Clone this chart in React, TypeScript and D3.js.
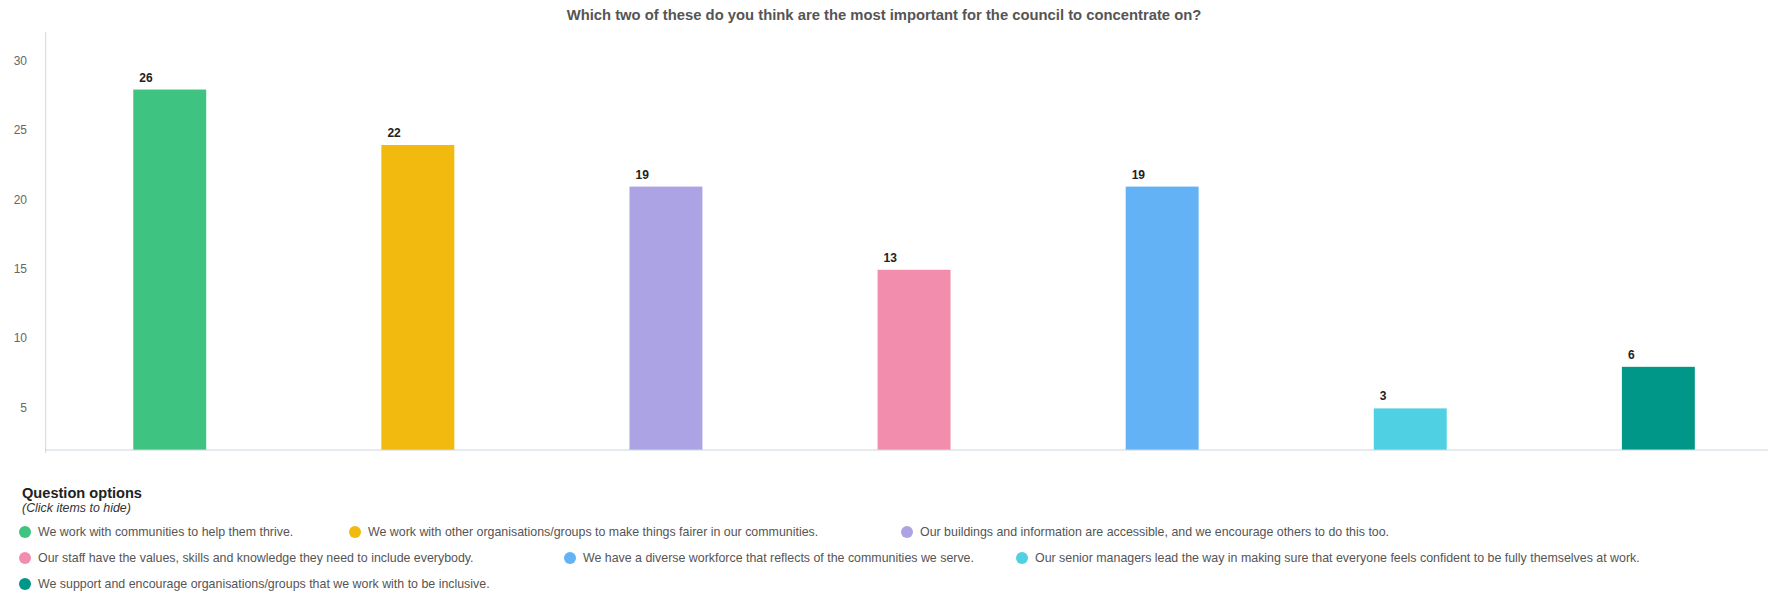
import React from "react";
import * as d3 from "d3";

const TITLE = "Which two of these do you think are the most important for the council to concentrate on?";
const categories = [
  "We work with communities to help them thrive.",
  "We work with other organisations/groups to make things fairer in our communities.",
  "Our buildings and information are accessible, and we encourage others to do this too.",
  "Our staff have the values, skills and knowledge they need to include everybody.",
  "We have a diverse workforce that reflects of the communities we serve.",
  "Our senior managers lead the way in making sure that everyone feels confident to be fully themselves at work.",
  "We support and encourage organisations/groups that we work with to be inclusive.",
];
const values = [26, 22, 19, 13, 19, 3, 6];
const colors = ["#3fc380", "#f2b90f", "#aba3e3", "#f38dad", "#62b2f5", "#4fd0e3", "#009688"];
const yTicks = [5, 10, 15, 20, 25, 30];
const AXIS_OFFSET = 1.95; // axis labels are shifted relative to bar heights in the original
// legend layout: row index and left x of each item's marker
const legendRow = [0, 0, 0, 1, 1, 1, 2];
const legendX = [25, 355, 907, 25, 570, 1022, 25];

const W = 1768;
const H = 593;
const left = 45.7;
const right = 1782.4;
const base = 450;
const top = 32;

export default function App() {
  const x = d3
    .scaleBand<number>()
    .domain(values.map((_, i) => i))
    .range([left, right])
    .paddingInner(0.706)
    .paddingOuter(0.353);
  const y = d3.scaleLinear().domain([0, 30.15]).range([base, top]);
  const yAxis = d3.scaleLinear().domain([AXIS_OFFSET, 30.15 + AXIS_OFFSET]).range([base, top]);
  const font = "'Liberation Sans', Arial, sans-serif";
  const legendRowY = (r: number) => 532 + r * 26;

  return (
    <svg
      width={W}
      height={H}
      style={{ position: "absolute", left: 0, top: 0, display: "block", background: "#fff" }}
      fontFamily={font}
    >
      <text x={884} y={15} textAnchor="middle" dominantBaseline="central" fontSize={14.8} fontWeight="bold" fill="#555">
        {TITLE}
      </text>
      {yTicks.map((t) => (
        <text key={t} x={27} y={yAxis(t)} textAnchor="end" dominantBaseline="central" fontSize={12} fill="#666">
          {t}
        </text>
      ))}
      <line x1={left} x2={left} y1={top} y2={base + 3} stroke="#ccd6e0" strokeWidth={1} />
      {values.map((v, i) => (
        <g key={i}>
          <rect x={x(i)} y={y(v)} width={x.bandwidth()} height={base - y(v)} fill={colors[i]} />
          <text x={(x(i) as number) + 6} y={y(v) - 12} dominantBaseline="central" fontSize={12} fontWeight="bold" fill="#222">
            {v}
          </text>
        </g>
      ))}
      <line x1={left} x2={W} y1={base} y2={base} stroke="#ccd6e0" strokeWidth={1} />
      <text x={22} y={493} dominantBaseline="central" fontSize={14.6} fontWeight="bold" fill="#222">
        Question options
      </text>
      <text x={22} y={508} dominantBaseline="central" fontSize={12.4} fontStyle="italic" fill="#333">
        (Click items to hide)
      </text>
      {categories.map((c, i) => (
        <g key={i}>
          <circle cx={legendX[i]} cy={legendRowY(legendRow[i])} r={6} fill={colors[i]} />
          <text x={legendX[i] + 13} y={legendRowY(legendRow[i])} dominantBaseline="central" fontSize={12.4} fill="#555">
            {c}
          </text>
        </g>
      ))}
    </svg>
  );
}
